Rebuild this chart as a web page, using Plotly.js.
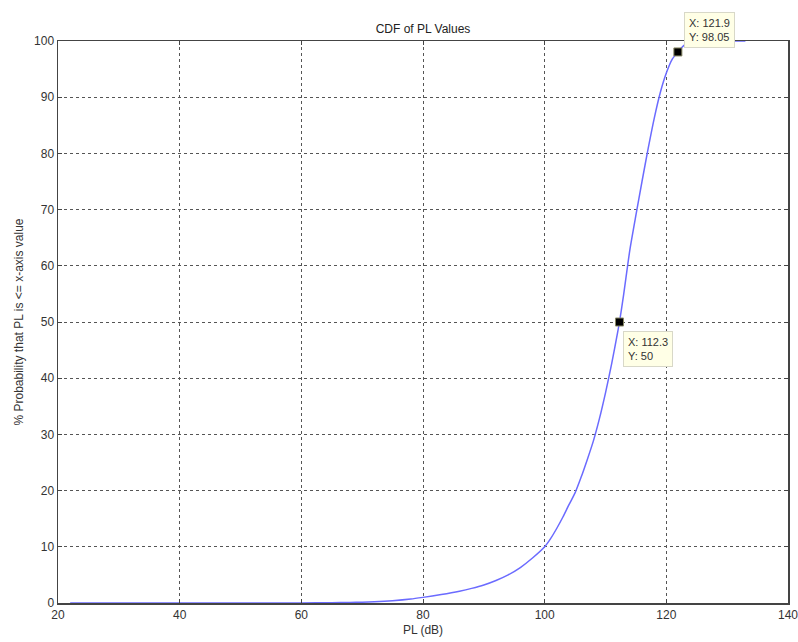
<!DOCTYPE html>
<html>
<head>
<meta charset="utf-8">
<script src="https://cdn.plot.ly/plotly-3.0.1.min.js"></script>
<style>html,body{margin:0;padding:0;background:#fff;}#chart{width:798px;height:642px;}</style>
</head>
<body>
<div id="chart"></div>
<script>
// PL values (dB) and cumulative probability (%)
const plValues = [22, 30, 40, 50, 60, 65, 68, 70, 72, 75, 78, 80, 83, 86, 88, 90, 92, 94, 96, 98, 100,
  101, 102, 103, 104, 105, 106, 107, 108, 109, 110, 111, 112, 112.3, 113, 114, 115, 116, 117, 118,
  119, 120, 121, 121.9, 122.5, 123, 124, 125, 126, 128, 130, 133];
const cdfValues = [0, 0, 0, 0, 0.02, 0.05, 0.1, 0.15, 0.22, 0.4, 0.7, 1.0, 1.5, 2.1, 2.6, 3.2, 4.0, 5.0, 6.3, 8.0, 10.0,
  11.5, 13.3, 15.3, 17.5, 19.6, 22.4, 25.5, 28.8, 32.8, 37.4, 42.5, 48.2, 50, 55, 62.8, 69, 75, 80.8, 86.2,
  90.8, 94.3, 96.8, 98.05, 98.8, 99.3, 99.7, 99.9, 100, 100, 100, 100];
// Data tips
const tipX = [121.9, 112.3];
const tipY = [98.05, 50];
const tipText = ['X: 121.9<br>Y: 98.05', 'X: 112.3<br>Y: 50'];
const xTicks = [20, 40, 60, 80, 100, 120, 140];
const yTicks = [0, 10, 20, 30, 40, 50, 60, 70, 80, 90, 100];

const traces = [
  {x: plValues, y: cdfValues, type: 'scatter', mode: 'lines',
   line: {color: '#6b6bff', width: 1.5, shape: 'spline', smoothing: 0.6}, hoverinfo: 'skip', cliponaxis: true},
  {x: tipX, y: tipY, type: 'scatter', mode: 'markers',
   marker: {symbol: 'square', size: 8, color: '#000', line: {color: '#888866', width: 1}}, cliponaxis: false}
];

const axisCommon = {
  showline: true, linecolor: '#444', linewidth: 1.5, mirror: 'ticks',
  ticks: 'inside', ticklen: 4, tickcolor: '#444',
  showgrid: true, gridcolor: '#555', griddash: 'dot', gridwidth: 1,
  zeroline: false, ticklabeloverflow: 'allow',
  tickfont: {family: 'Arial, Liberation Sans, sans-serif', size: 12, color: '#333'}
};

const layout = {
  width: 798, height: 642,
  margin: {l: 58, r: 10, t: 41, b: 39},
  paper_bgcolor: '#fff', plot_bgcolor: '#fff',
  showlegend: false,
  title: {text: 'CDF of PL Values', font: {family: 'Arial, Liberation Sans, sans-serif', size: 12, color: '#222'},
          x: 0.5, xref: 'paper', y: 1, yref: 'paper', yanchor: 'bottom', pad: {b: 8}},
  xaxis: Object.assign({}, axisCommon, {range: [20, 140], tickvals: xTicks, ticktext: xTicks.map(String),
    title: {text: 'PL (dB)', font: {family: 'Arial, Liberation Sans, sans-serif', size: 12, color: '#333'}, standoff: 4}}),
  yaxis: Object.assign({}, axisCommon, {range: [0, 100], tickvals: yTicks, ticktext: yTicks.map(String),
    title: {text: '% Probability that PL is <= x-axis value', font: {family: 'Arial, Liberation Sans, sans-serif', size: 12, color: '#333'}, standoff: 8}}),
  annotations: [
    {x: tipX[0], y: tipY[0], xref: 'x', yref: 'y', text: tipText[0], showarrow: false,
     xanchor: 'left', yanchor: 'bottom', xshift: 6, yshift: 4, align: 'left',
     font: {family: 'Arial, Liberation Sans, sans-serif', size: 11, color: '#333'},
     bgcolor: '#ffffe6', bordercolor: '#d8d8c8', borderwidth: 1, borderpad: 4},
    {x: tipX[1], y: tipY[1], xref: 'x', yref: 'y', text: tipText[1], showarrow: false,
     xanchor: 'left', yanchor: 'top', xshift: 4, yshift: -9, align: 'left',
     font: {family: 'Arial, Liberation Sans, sans-serif', size: 11, color: '#333'},
     bgcolor: '#ffffe6', bordercolor: '#d8d8c8', borderwidth: 1, borderpad: 4}
  ]
};

Plotly.newPlot('chart', traces, layout, {displayModeBar: false, staticPlot: true});
</script>
</body>
</html>
